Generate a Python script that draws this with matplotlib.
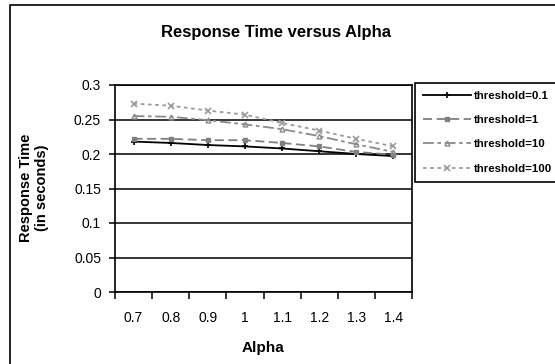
import matplotlib
matplotlib.use("Agg")
import matplotlib.pyplot as plt
from matplotlib.patches import Rectangle

plt.rcParams['font.family'] = ['Liberation Sans', 'DejaVu Sans']

alpha_labels = ['0.7', '0.8', '0.9', '1', '1.1', '1.2', '1.3', '1.4']
series_names = ['threshold=0.1', 'threshold=1', 'threshold=10', 'threshold=100']
rt_01 = [0.218, 0.216, 0.213, 0.211, 0.208, 0.204, 0.200, 0.197]
rt_1 = [0.222, 0.222, 0.220, 0.220, 0.216, 0.211, 0.203, 0.199]
rt_10 = [0.255, 0.254, 0.249, 0.243, 0.236, 0.226, 0.214, 0.203]
rt_100 = [0.273, 0.270, 0.263, 0.257, 0.245, 0.234, 0.222, 0.211]
yticks = [0, 0.05, 0.1, 0.15, 0.2, 0.25, 0.3]
ytick_labels = ['0', '0.05', '0.1', '0.15', '0.2', '0.25', '0.3']

W, H = 555, 364
fig = plt.figure(figsize=(W / 100, H / 100), dpi=100)
ax = fig.add_axes([115 / W, 1 - 292 / H, (412 - 115) / W, (292 - 85) / H])

# chart frame (runs off the right and bottom edges)
fig.patches.append(Rectangle((10 / W, -0.2), 1.2, (H - 5) / H + 0.2,
                             transform=fig.transFigure, fill=False,
                             edgecolor='black', linewidth=1.2))

x = list(range(len(alpha_labels)))
styles = [
    dict(color='black', linestyle='-', marker='+', markersize=5, mew=1.2),
    dict(color='#808080', linestyle=(0, (5, 2.5)), marker='s', markersize=3.5),
    dict(color='#8a8a8a', linestyle=(0, (6, 2, 2, 2)), marker='^', markersize=3.5,
         markerfacecolor='none'),
    dict(color='#9a9a9a', linestyle=(0, (2, 2)), marker='x', markersize=4.5, mew=1.2),
]
for vals, name, st in zip([rt_01, rt_1, rt_10, rt_100], series_names, styles):
    ax.plot(x, vals, label=name, linewidth=1.3, **st)

ax.set_xlim(-0.5, len(alpha_labels) - 0.5)
ax.set_ylim(0, 0.3)
ax.set_yticks(yticks)
ax.set_yticklabels(ytick_labels)
ax.yaxis.grid(True, color='black', linewidth=1.1)
ax.set_axisbelow(True)

ax.set_xticks([i - 0.5 for i in range(len(alpha_labels) + 1)])
ax.set_xticklabels([])
ax.set_xticks(x, minor=True)
ax.set_xticklabels(alpha_labels, minor=True)
ax.tick_params(axis='x', which='minor', length=0, pad=14, labelsize=10)
ax.tick_params(axis='x', which='major', length=5, width=1.1, direction='out')
ax.tick_params(axis='y', length=4, width=1.1, direction='out', labelsize=10, pad=6)
for s in ax.spines.values():
    s.set_color('black')
    s.set_linewidth(1.2)

fig.text(276 / W, 1 - 33 / H, 'Response Time versus Alpha', ha='center', va='center',
         fontsize=12, fontweight='bold')
fig.text(263 / W, 1 - 348 / H, 'Alpha', ha='center', va='center', fontsize=11,
         fontweight='bold')
fig.text(34 / W, 1 - 188 / H, 'Response Time\n(in seconds)', ha='center', va='center',
         rotation=90, fontsize=10.5, fontweight='bold', linespacing=1.15)

leg = fig.legend(loc='upper left', bbox_to_anchor=(415 / W, 1 - 83 / H),
                 prop={'size': 8.2, 'weight': 'bold'},
                 frameon=True, fancybox=False, edgecolor='black', framealpha=1,
                 handlelength=4.2, handletextpad=0.25, labelspacing=1.25,
                 borderaxespad=0, borderpad=0.7)
leg.get_frame().set_linewidth(1.2)

fig.savefig('out.png', dpi=100)
